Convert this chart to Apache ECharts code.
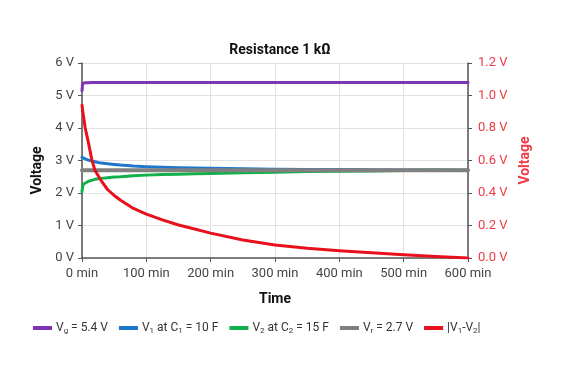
<!DOCTYPE html>
<html><head><meta charset="utf-8">
<script src="https://cdn.jsdelivr.net/npm/echarts@6/dist/echarts.min.js"></script>
<style>html,body{margin:0;padding:0;background:#fff}#c{width:569px;height:380px}</style>
</head><body><div id="c"></div>
<script>
const times = [0,1,2,5,10,15,20,30,40,50,60,80,100,125,150,175,200,250,300,350,400,450,500,550,600];
const vg    = [5.15,5.37,5.38,5.39,5.39,5.4,5.4,5.4,5.4,5.4,5.4,5.4,5.4,5.4,5.4,5.4,5.4,5.4,5.4,5.4,5.4,5.4,5.4,5.4,5.4];
const v1    = [3.1,3.09,3.08,3.05,3.01,2.98,2.96,2.92,2.9,2.88,2.86,2.83,2.81,2.79,2.78,2.77,2.76,2.745,2.73,2.725,2.72,2.715,2.71,2.705,2.7];
const v2    = [2.04,2.2,2.27,2.32,2.36,2.39,2.42,2.45,2.47,2.49,2.5,2.53,2.55,2.57,2.58,2.59,2.6,2.62,2.64,2.66,2.67,2.68,2.69,2.7,2.7];
const vr    = [2.7,2.7,2.7,2.7,2.7,2.7,2.7,2.7,2.7,2.7,2.7,2.7,2.7,2.7,2.7,2.7,2.7,2.7,2.7,2.7,2.7,2.7,2.7,2.7,2.7];
const diff  = [0.94,0.91,0.88,0.8,0.71,0.61,0.54,0.475,0.42,0.385,0.355,0.305,0.27,0.235,0.203,0.178,0.153,0.111,0.08,0.06,0.045,0.032,0.02,0.009,0.0];
const seriesNames = ['Vg','V1','V2','Vr','D'];
const legendLabels = {
  'Vg': 'V{s|g} = 5.4 V',
  'V1': 'V{s|1} at C{s|1} = 10 F',
  'V2': 'V{s|2} at C{s|2} = 15 F',
  'Vr': 'V{s|r} = 2.7 V',
  'D': '|V{s|1}-V{s|2}|'
};
const colors = ['#7b35b5','#1f77cc','#12b04a','#808080','#e8111b'];
const FONT = "'Roboto',sans-serif";
const pair = arr => times.map((t,i)=>[t,arr[i]]);

const chart = echarts.init(document.getElementById('c'));
const mk = (name, arr, color, width, yIdx, z) => ({
  name, type:'line', data: pair(arr), yAxisIndex: yIdx, smooth: false, showSymbol:false,
  lineStyle:{color, width, join:'round', cap:'round'}, itemStyle:{color}, z
});
chart.setOption({
  animation:false,
  textStyle:{fontFamily:FONT},
  title:{text:'Resistance 1 kΩ', left:275, textAlign:'center', top:38,
    textStyle:{fontFamily:FONT, fontSize:14, fontWeight:'bold', color:'#111'}},
  grid:{left:82, right:101, top:63, bottom:122},
  xAxis:{type:'value', min:0, max:600, interval:100,
    name:'Time', nameLocation:'middle', nameGap:34,
    nameTextStyle:{fontFamily:FONT, fontSize:14, fontWeight:'bold', color:'#111'},
    axisLine:{lineStyle:{color:'#555', width:1.5}},
    axisTick:{show:true, length:4, lineStyle:{color:'#555'}},
    axisLabel:{formatter:'{value} min', fontFamily:FONT, fontSize:13, color:'#444', margin:9},
    splitLine:{lineStyle:{color:'#e2e2e2', width:1}}},
  yAxis:[
    {type:'value', min:0, max:6, interval:1, position:'left',
      name:'Voltage', nameLocation:'middle', nameGap:38, nameRotate:90,
      nameTextStyle:{fontFamily:FONT, fontSize:14, fontWeight:'bold', color:'#111', padding:[0,20,0,0]},
      axisLine:{show:true, lineStyle:{color:'#555', width:1.5}},
      axisTick:{show:true, length:4, lineStyle:{color:'#555'}},
      axisLabel:{formatter:'{value} V', fontFamily:FONT, fontSize:13, color:'#444', margin:8},
      splitLine:{lineStyle:{color:'#e2e2e2', width:1}}},
    {type:'value', min:0, max:1.2, interval:0.2, position:'right',
      name:'Voltage', nameLocation:'middle', nameGap:50, nameRotate:90,
      nameTextStyle:{fontFamily:FONT, fontSize:14, fontWeight:'bold', color:'#ee3a44'},
      axisLine:{show:true, lineStyle:{color:'#555', width:1.5}},
      axisTick:{show:true, length:4, lineStyle:{color:'#555'}},
      axisLabel:{formatter:v=>v.toFixed(1)+' V', fontFamily:FONT, fontSize:13, color:'#ee3a44', margin:10},
      splitLine:{show:false}}
  ],
  legend:{top:317, left:28, itemWidth:19, itemHeight:4, icon:'rect', itemGap:11,
    data:seriesNames,
    formatter: n => legendLabels[n],
    textStyle:{fontFamily:FONT, fontSize:12, color:'#333', padding:[0,0,0,-1],
      rich:{s:{fontFamily:FONT, fontSize:8, color:'#333', padding:[6,0,0,0]}}}},
  series:[
    mk('Vg', vg, colors[0], 3, 0, 3),
    mk('V1', v1, colors[1], 3, 0, 4),
    mk('V2', v2, colors[2], 3, 0, 4),
    mk('Vr', vr, colors[3], 4, 0, 5),
    mk('D', diff, colors[4], 3, 1, 6)
  ]
});
</script></body></html>
